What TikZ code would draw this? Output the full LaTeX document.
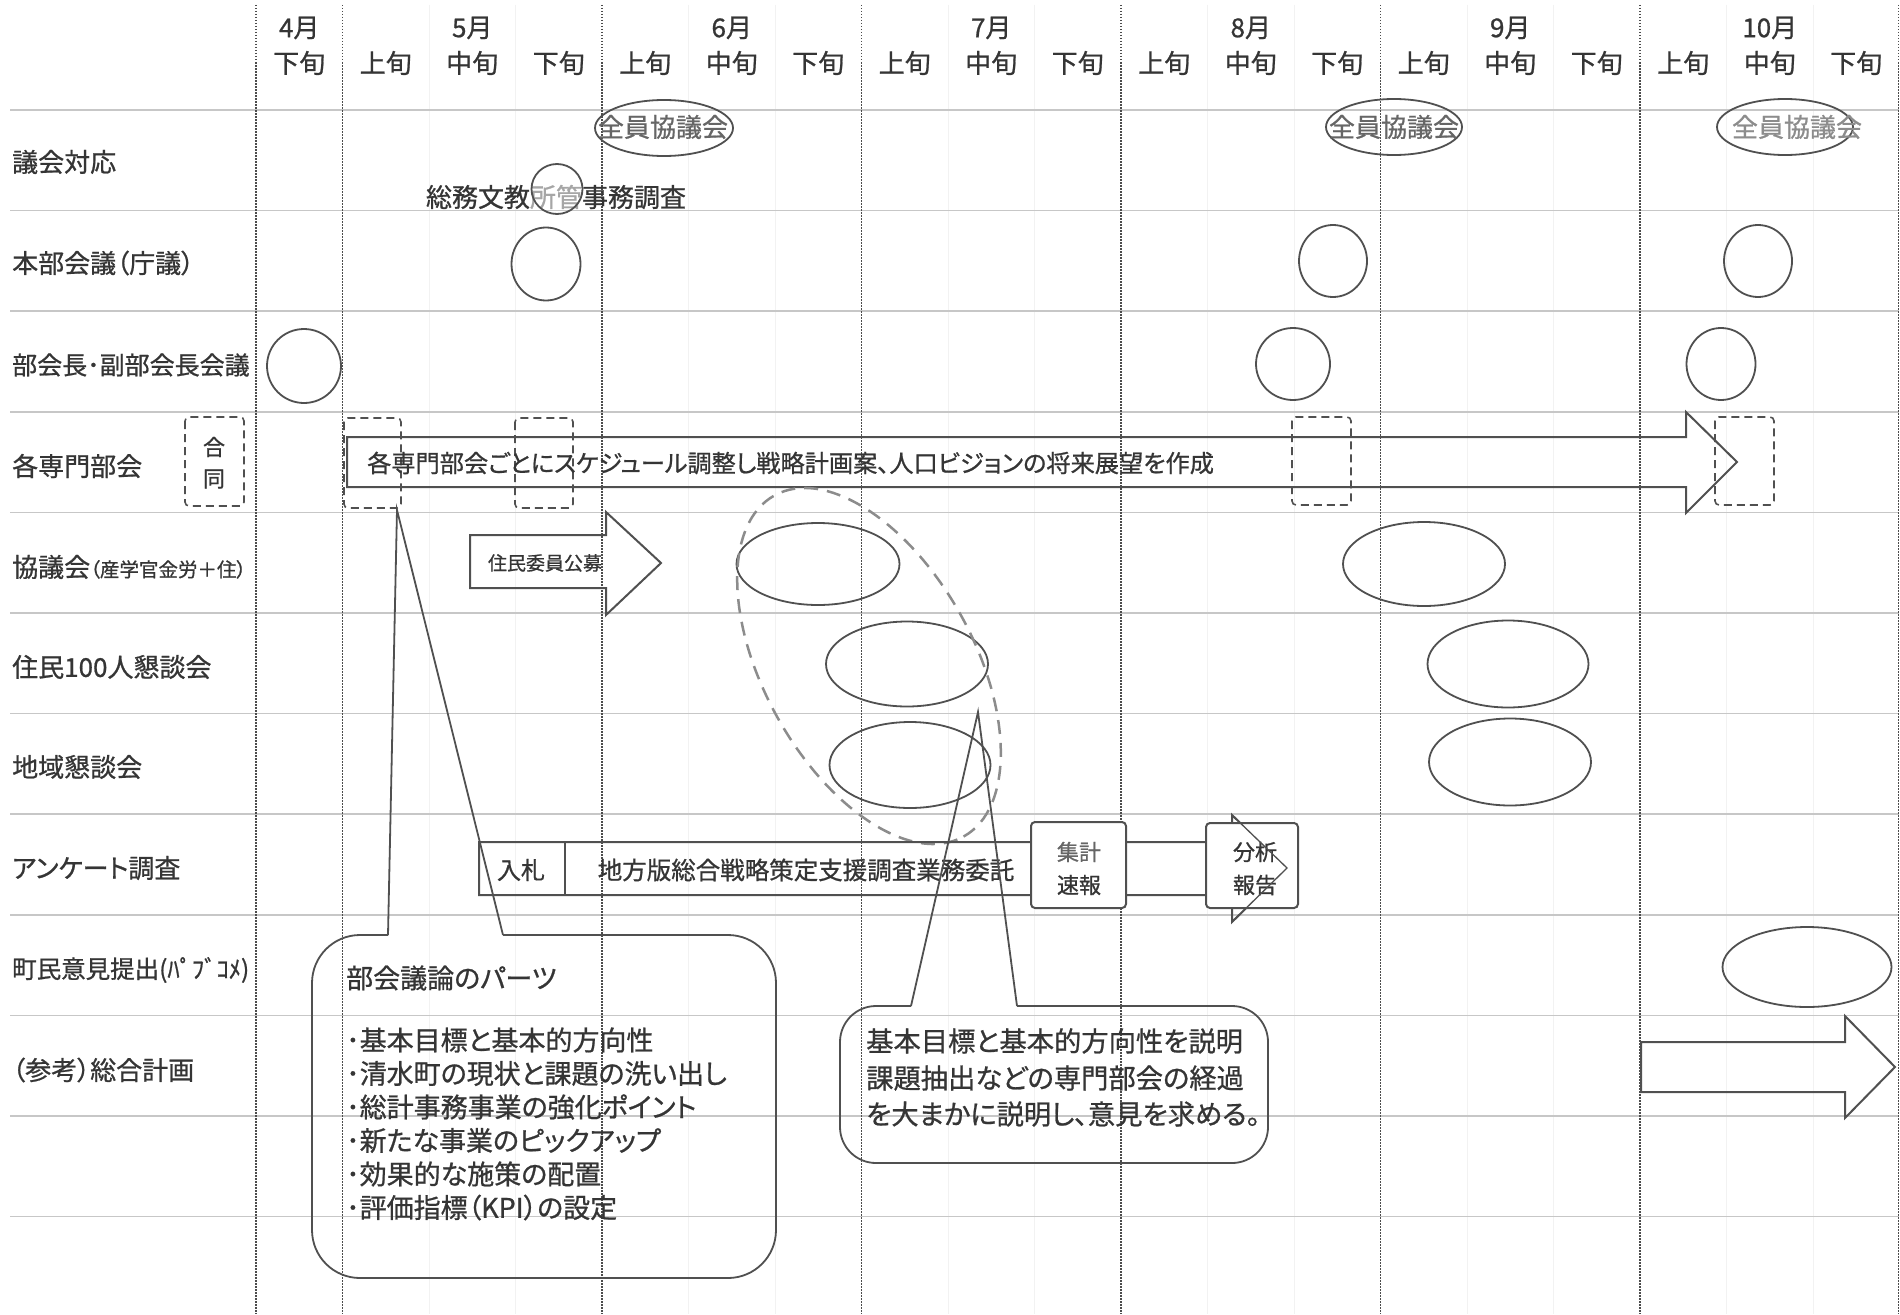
\documentclass[tikz,border=0pt]{standalone}
\usepackage{fontspec}
\setmainfont{Noto Sans CJK JP}[RawFeature=+palt,FakeBold=0.8]
\usetikzlibrary{shapes.geometric}
\definecolor{ink}{HTML}{353535}
\definecolor{lineg}{HTML}{505050}
\begin{document}
\begin{tikzpicture}[x=1pt,y=-1pt,
  lbl/.style={anchor=west,text=ink,inner sep=0pt,font=\fontsize{26}{30}\selectfont},
  hdr/.style={text=ink,inner sep=0pt,font=\fontsize{26}{30}\selectfont},
  txt/.style={text=ink,inner sep=0pt,font=\fontsize{26}{30}\selectfont},
  oval/.style={ellipse,draw=lineg,line width=1.8pt,inner sep=0pt},
  dbox/.style={draw=lineg,line width=1.6pt,dash pattern=on 8pt off 5pt,rounded corners=4pt},
  mline/.style={draw=black!70,line width=1.3pt,dash pattern=on 1.5pt off 1.5pt},
  hline/.style={draw=black!22,line width=1.6pt},
  dline/.style={draw=black!5,line width=0.8pt},
  shp/.style={draw=lineg,line width=2pt,line join=miter},
  callout/.style={draw=lineg,line width=1.8pt},
]
\useasboundingbox (0,0) rectangle (1900,1314);
\fill[white] (0,0) rectangle (1900,1314);

% faint decade lines
\foreach \k in {2,3,5,6,8,9,11,12,14,15,17,18}
  \draw[dline] ({256+86.5*\k},5) -- ({256+86.5*\k},1314);
% horizontal row lines
\foreach \k in {0,...,11}
  \draw[hline] (10,{110+100.6*\k}) -- (1899,{110+100.6*\k});
% month lines
\foreach \k in {0,1,4,7,10,13,16}
  \draw[mline] ({256+86.5*\k},5) -- ({256+86.5*\k},1314);
\draw[mline] (1898.5,5) -- (1898.5,1314);

% header
\foreach \i/\t in {0/4月,2/5月,5/6月,8/7月,11/8月,14/9月,17/10月}
  \node[hdr] (mon\i) at ({256+86.5*(\i+0.5)},28) {\t};
\foreach \i/\t in {0/下旬,1/上旬,2/中旬,3/下旬,4/上旬,5/中旬,6/下旬,7/上旬,8/中旬,9/下旬,10/上旬,11/中旬,12/下旬,13/上旬,14/中旬,15/下旬,16/上旬,17/中旬,18/下旬}
  \node[hdr] (dec\i) at ({256+86.5*(\i+0.5)},63) {\t};

% row labels
\node[lbl] (r0) at (12,162) {議会対応};
\node[lbl] (r1) at (12,263) {本部会議（庁議）};
\node[lbl,font=\fontsize{25}{30}\selectfont] (r2) at (12,365) {部会長･副部会長会議};
\node[lbl] (r3) at (12,466) {各専門部会};
\node[lbl] (r4) at (12,567) {協議会{\fontsize{19.5}{22}\selectfont（産学官金労＋住）}};
\node[lbl] (r5) at (12,667) {住民100人懇談会};
\node[lbl] (r6) at (12,767) {地域懇談会};
\node[lbl] (r7) at (12,868) {アンケート調査};
\node[lbl,font=\fontsize{24.5}{30}\selectfont] (r8) at (12,970) {町民意見提出(ﾊﾟﾌﾞｺﾒ)};
\node[lbl] (r9) at (12,1070) {（参考）総合計画};

% 議会対応 row
\node[oval,minimum width=138pt,minimum height=56pt] (g1) at (664,128) {};
\node[txt,text=black!60] (g1t) at (663,127) {全員協議会};
\node[oval,minimum width=136pt,minimum height=56pt] (g2) at (1394,127) {};
\node[txt,text=black!60] (g2t) at (1394,127) {全員協議会};
\node[oval,minimum width=136pt,minimum height=56pt] (g3) at (1785,127) {};
\node[txt,text=black!45] (g3t) at (1797,127) {全員協議会};
\node[txt] (somu) at (556,197) {総務文教{\color{black!35}所管}事務調査};
\node[oval,minimum width=51pt,minimum height=50pt] (s1) at (557,189) {};

% 本部会議
\node[oval,minimum width=69pt,minimum height=73pt] (h1) at (546,264) {};
\node[oval,minimum width=68pt,minimum height=72pt] (h2) at (1333,261) {};
\node[oval,minimum width=68pt,minimum height=72pt] (h3) at (1758,261) {};

% 部会長・副部会長会議
\node[oval,minimum width=74pt,minimum height=74pt] (b1) at (304,366) {};
\node[oval,minimum width=74pt,minimum height=72pt] (b2) at (1293,364) {};
\node[oval,minimum width=69pt,minimum height=72pt] (b3) at (1721,364) {};

% 各専門部会
\draw[dbox] (185,417) rectangle (244,506);
\node[txt,font=\fontsize{22}{26}\selectfont] (go1) at (214,447) {合};
\node[txt,font=\fontsize{22}{26}\selectfont] (go2) at (214,479) {同};
\draw[dbox] (344,418) rectangle (401,508);
\draw[dbox] (515,418) rectangle (573,508);
\draw[dbox] (1292,417) rectangle (1351,505);
\draw[dbox] (1715,417) rectangle (1774,505);
\draw[shp] (347,437) -- (1686,437) -- (1686,412) -- (1737,462) -- (1686,513) -- (1686,487) -- (347,487) -- cycle;
\node[txt,anchor=west,font=\fontsize{24.2}{28}\selectfont] (sen) at (367,463) {各専門部会ごとにスケジュール調整し戦略計画案、人口ビジョンの将来展望を作成};

% 協議会
\draw[shp] (470,535) -- (606,535) -- (606,512) -- (661,563) -- (606,615) -- (606,588) -- (470,588) -- cycle;
\node[txt,font=\fontsize{19}{22}\selectfont] (kobo) at (545,563) {住民委員公募};
\node[oval,minimum width=163pt,minimum height=82pt] (k1) at (818,564) {};
\node[oval,minimum width=162pt,minimum height=84pt] (k2) at (1424,564) {};

% 住民100人懇談会
\node[oval,minimum width=162pt,minimum height=85pt] (j1) at (907,664) {};
\node[oval,minimum width=161pt,minimum height=87pt] (j2) at (1508,664) {};

% 地域懇談会
\node[oval,minimum width=161pt,minimum height=86pt] (c1) at (910,765) {};
\node[oval,minimum width=162pt,minimum height=87pt] (c2) at (1510,762) {};

% dashed grouping ellipse
\node[ellipse,draw=black!45,line width=2.5pt,dash pattern=on 14pt off 9pt,minimum width=390pt,minimum height=210pt,inner sep=0pt,rotate=-61] (grp) at (869,666) {};

% アンケート調査
\draw[shp] (479,842) -- (1232,842) -- (1232,815) -- (1287,868) -- (1232,922) -- (1232,895) -- (479,895) -- cycle;
\draw[shp] (565,842) -- (565,895);
\node[txt,font=\fontsize{24}{28}\selectfont] (nyu) at (521,870) {入札};
\node[txt,font=\fontsize{24.5}{28}\selectfont] (itaku) at (806,870) {地方版総合戦略策定支援調査業務委託};
\draw[shp,fill=white,rounded corners=4pt] (1031,822) rectangle (1126,908);
\node[txt,font=\fontsize{22}{26}\selectfont,text=black!60] (shu1) at (1079,852) {集計};
\node[txt,font=\fontsize{22}{26}\selectfont] (shu2) at (1079,885) {速報};
\draw[shp,fill=white,rounded corners=4pt] (1206,823) rectangle (1298,908);
\node[txt,font=\fontsize{22}{26}\selectfont] (bun1) at (1255,852) {分析};
\node[txt,font=\fontsize{22}{26}\selectfont] (bun2) at (1255,885) {報告};
\draw[draw=lineg,line width=1.3pt] (1232,815) -- (1287,868) -- (1232,922);

% 町民意見提出
\node[oval,minimum width=169pt,minimum height=80pt] (p1) at (1807,967) {};

% 総合計画 arrow
\draw[shp] (1641,1042) -- (1845,1042) -- (1845,1016) -- (1895,1067) -- (1845,1118) -- (1845,1092) -- (1641,1092) -- cycle;

% callout 1
\coordinate (t1) at (397,510);
\coordinate (t1a) at (388,935);
\coordinate (t1b) at (503,935);
\draw[callout,rounded corners=48pt] (t1b) -- (776,935) -- (776,1278) -- (312,1278) -- (312,935) -- (t1a);
\draw[callout] (t1a) -- (t1) -- (t1b);
\node[txt,anchor=west,font=\fontsize{27}{30}\selectfont] (cp0) at (346,978) {部会議論のパーツ};
\foreach \n/\y/\t in {1/1040/基本目標と基本的方向性,2/1073.5/清水町の現状と課題の洗い出し,3/1107/総計事務事業の強化ポイント,4/1140.5/新たな事業のピックアップ,5/1174/効果的な施策の配置,6/1207.5/評価指標（KPI）の設定}
  \node[txt,anchor=west,font=\fontsize{27}{30}\selectfont] (cp\n) at (346,\y) {･\t};

% callout 2
\coordinate (t2) at (978,712);
\coordinate (t2a) at (911,1006);
\coordinate (t2b) at (1017,1006);
\draw[callout,rounded corners=36pt] (t2b) -- (1268,1006) -- (1268,1163) -- (840,1163) -- (840,1006) -- (t2a);
\draw[callout] (t2a) -- (t2) -- (t2b);
\node[txt,anchor=west,font=\fontsize{27.3}{30}\selectfont] (cq1) at (866,1041) {基本目標と基本的方向性を説明};
\node[txt,anchor=west,font=\fontsize{27.3}{30}\selectfont] (cq2) at (866,1078) {課題抽出などの専門部会の経過};
\node[txt,anchor=west,font=\fontsize{27.3}{30}\selectfont] (cq3) at (866,1114) {を大まかに説明し、意見を求める。};
\end{tikzpicture}
\end{document}
